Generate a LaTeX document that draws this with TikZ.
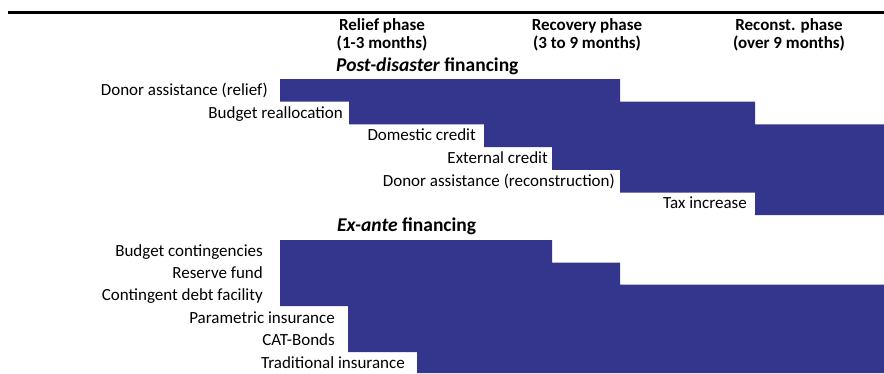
\documentclass[tikz,border=0pt]{standalone}
\usepackage{fontspec}
\setmainfont{Carlito}
\definecolor{barblue}{RGB}{51,54,140}
\begin{document}
\begin{tikzpicture}[x=1pt,y=-1pt,
  lbl/.style={anchor=base east,inner sep=0pt,font=\fontsize{17}{20}\selectfont},
  phase/.style={anchor=north,align=center,inner sep=0pt,font=\bfseries\fontsize{17}{17.5}\selectfont},
  sect/.style={anchor=base west,inner sep=0pt,font=\bfseries\fontsize{19.5}{22}\selectfont},
  bar/.style={fill=barblue,draw=none},
  rulestyle/.style={line width=3pt,black}]
\useasboundingbox (0,0) rectangle (884,373);
% top rule
\coordinate (ruleL) at (8,12);
\coordinate (ruleR) at (884,12);
\draw[rulestyle] (ruleL) -- (ruleR);
% phase headers
\node[phase] (relief) at (382,18.5) {Relief phase\\(1-3 months)};
\node[phase] (recovery) at (587,18.5) {Recovery phase\\(3 to 9 months)};
\node[phase] (reconst) at (789,18.5) {Reconst. phase\\(over 9 months)};
% section titles
\node[sect] (post) at (336,71) {\textit{Post-disaster} financing};
\node[sect] (exante) at (337,231.5) {\textit{Ex-ante} financing};
% post-disaster bars
\fill[bar] (280,79) -- (620,79) -- (620,101.7) -- (755,101.7) -- (755,124.4)
  -- (884,124.4) -- (884,215) -- (755,215) -- (755,192.5) -- (620,192.5)
  -- (620,169.8) -- (552,169.8) -- (552,147) -- (484,147) -- (484,124.4)
  -- (349,124.4) -- (349,101.7) -- (280,101.7) -- cycle;
% ex-ante bars
\fill[bar] (280,240) -- (552,240) -- (552,262.5) -- (620,262.5) -- (620,284.5)
  -- (884,284.5) -- (884,373) -- (417,373) -- (417,352) -- (348,352)
  -- (348,306) -- (280,306) -- cycle;
% post-disaster labels
\node[lbl] (l1) at (268,95.5) {Donor assistance (relief)};
\node[lbl] (l2) at (343,118.5) {Budget reallocation};
\node[lbl] (l3) at (476,140.5) {Domestic credit};
\node[lbl] (l4) at (548,163) {External credit};
\node[lbl] (l5) at (615,186) {Donor assistance (reconstruction)};
\node[lbl] (l6) at (747,208) {Tax increase};
% ex-ante labels
\node[lbl] (e1) at (263,256) {Budget contingencies};
\node[lbl] (e2) at (263,278.5) {Reserve fund};
\node[lbl] (e3) at (263,300.5) {Contingent debt facility};
\node[lbl] (e4) at (335,323) {Parametric insurance};
\node[lbl] (e5) at (335,345.5) {CAT-Bonds};
\node[lbl] (e6) at (405,368.5) {Traditional insurance};
\end{tikzpicture}
\end{document}
